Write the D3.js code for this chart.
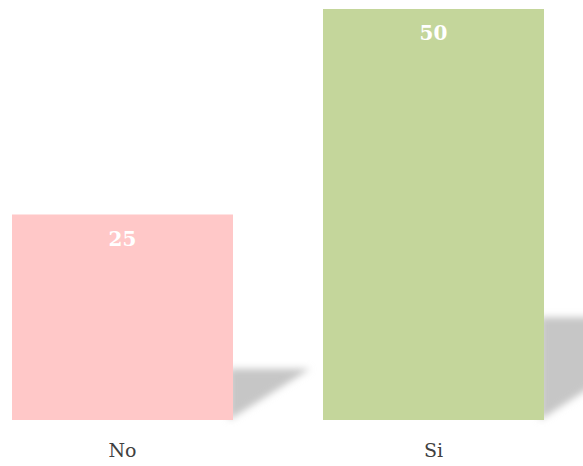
<!DOCTYPE html>
<html>
<head>
<meta charset="utf-8">
<script src="https://cdn.jsdelivr.net/npm/d3@7"></script>
<style>
  html, body { margin: 0; padding: 0; background: #fff; }
  svg { display: block; }
</style>
</head>
<body>
<script>
// Chart data
const categories = ["No", "Si"];
const values = [25, 50];
const barColors = ["#FFC8C8", "#C4D69B"];

const width = 583, height = 466;
const baseY = 420, topY = 9;

const svg = d3.select("body").append("svg")
  .attr("width", width)
  .attr("height", height);

const x = d3.scaleBand()
  .domain(categories)
  .range([12, 544])
  .paddingInner(0.2894)
  .paddingOuter(0);

const y = d3.scaleLinear()
  .domain([0, 50])
  .range([baseY, topY]);

// soft blur for the cast shadows
const defs = svg.append("defs");
defs.append("filter")
  .attr("id", "shadowBlur")
  .attr("x", "-20%").attr("y", "-20%")
  .attr("width", "140%").attr("height", "140%")
  .append("feGaussianBlur")
  .attr("stdDeviation", 3.5);

const data = categories.map((c, i) => ({ cat: c, value: values[i], color: barColors[i] }));

// perspective shadows falling back to the right of each bar
svg.append("g")
  .selectAll("path")
  .data(data)
  .join("path")
  .attr("filter", "url(#shadowBlur)")
  .attr("fill", "#c6c6c6")
  .attr("d", d => {
    const xr = x(d.cat) + x.bandwidth();
    const h = y(0) - y(d.value);
    const s = h * 0.25;
    const dx = s * 1.5;
    return `M${xr - 4},${y(0)} L${xr - 4},${y(0) - s} L${xr + dx},${y(0) - s} Z`;
  });

// bars
svg.append("g")
  .selectAll("rect")
  .data(data)
  .join("rect")
  .attr("x", d => x(d.cat))
  .attr("y", d => y(d.value))
  .attr("width", x.bandwidth())
  .attr("height", d => y(0) - y(d.value))
  .attr("fill", d => d.color);

// value labels inside bar tops
svg.append("g")
  .selectAll("text")
  .data(data)
  .join("text")
  .attr("x", d => x(d.cat) + x.bandwidth() / 2)
  .attr("y", d => y(d.value) + 31)
  .attr("text-anchor", "middle")
  .style("font-family", "'DejaVu Serif', serif")
  .style("font-weight", "bold")
  .style("font-size", "20px")
  .attr("fill", "#ffffff")
  .text(d => d.value);

// category axis
const axis = svg.append("g")
  .attr("transform", `translate(0,${baseY})`)
  .call(d3.axisBottom(x).tickSize(0).tickPadding(23.5));
axis.select(".domain").remove();
axis.selectAll("text")
  .style("font-family", "'DejaVu Serif', serif")
  .style("font-size", "19px")
  .attr("fill", "#404040");
</script>
</body>
</html>
